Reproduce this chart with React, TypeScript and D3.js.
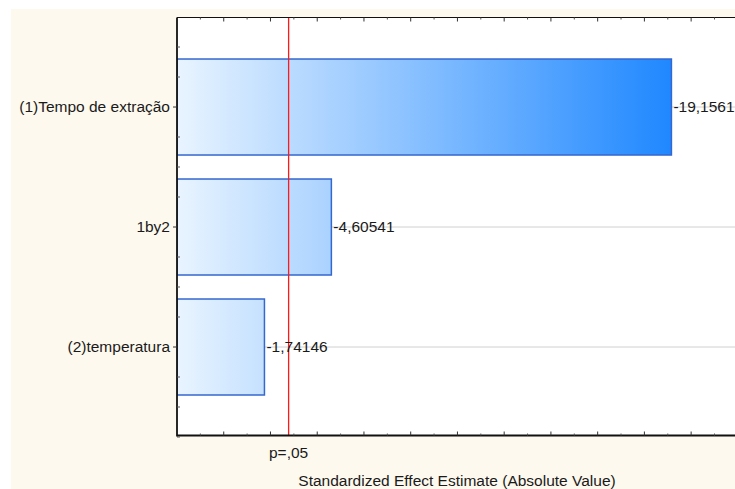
import React from "react";
import * as d3 from "d3";

// Pareto chart of standardized effects
const effectNames = ["(1)Tempo de extração", "1by2", "(2)temperatura"];
const effectValues = [19.1561, 4.60541, 1.74146];
const effectLabels = ["-19,1561", "-4,60541", "-1,74146"];
const criticalValue = 2.776;
const criticalLabel = "p=,05";
const xTitle = "Standardized Effect Estimate (Absolute Value)";

const W = 735;
const H = 489;
const left = 177;
const top = 17.5;
const bottom = 435.5;

export default function App() {
  const x = d3.scaleLinear().domain([-2, 22]).range([left, left + 24 * 23.37]);
  const y = d3.scaleLinear().domain([0.254, 3.7375]).range([top, bottom]);
  const barH = 0.8 * (y(2) - y(1));
  const xMajor = d3.range(0, 22, 2);
  const xMinor = d3.range(-1, 22, 2);
  const yMinor = d3.range(0.5, 3.76, 0.25).filter((v) => Math.abs(v - Math.round(v)) > 1e-6);
  const yMajor = [1, 2, 3];
  const font = "Arial, 'Liberation Sans', sans-serif";
  const fs = 15.5;
  const right = W + 5;

  return (
    <svg width={W} height={H} style={{ position: "absolute", left: 0, top: 0 }}>
      <defs>
        <linearGradient id="barFill" gradientUnits="userSpaceOnUse" x1={left} y1={0} x2={x(19.3)} y2={0}>
          <stop offset="0" stopColor="#e9f4ff" />
          <stop offset="1" stopColor="#1e87ff" />
        </linearGradient>
        <clipPath id="plotClip">
          <rect x={left} y={top} width={right - left} height={bottom - top} />
        </clipPath>
      </defs>
      <rect x={0} y={0} width={W} height={H} fill="#ffffff" />
      <rect x={11} y={9} width={W - 11} height={H - 9} fill="#fef9ee" />
      <rect x={left} y={top} width={right - left} height={bottom - top} fill="#ffffff" />

      <g clipPath="url(#plotClip)">
        {yMajor.map((v) => (
          <line key={v} x1={left} x2={right} y1={y(v)} y2={y(v)} stroke="#d0d0d0" strokeWidth={1} />
        ))}
        {effectValues.map((v, i) => (
          <rect
            key={i}
            x={left}
            y={y(i + 1) - barH / 2}
            width={x(v) - left}
            height={barH}
            fill="url(#barFill)"
            stroke="#3467cf"
            strokeWidth={1.5}
          />
        ))}
        <line x1={x(criticalValue)} x2={x(criticalValue)} y1={top} y2={bottom} stroke="#ff1a1a" strokeWidth={1.3} />
      </g>

      {effectValues.map((v, i) => (
        <text
          key={i}
          x={x(v) + 2}
          y={y(i + 1)}
          dy="0.35em"
          fontFamily={font}
          fontSize={fs}
          fill="#1a1a1a"
        >
          {effectLabels[i]}
        </text>
      ))}

      {/* frame */}
      <line x1={left} x2={right} y1={top} y2={top} stroke="#111" strokeWidth={1} />
      <line x1={left} x2={right} y1={bottom} y2={bottom} stroke="#111" strokeWidth={1.8} />
      <line x1={left} x2={left} y1={top} y2={bottom + 0.9} stroke="#111" strokeWidth={1.8} />

      {/* x ticks, inward on bottom and top */}
      {xMajor.map((v) => (
        <g key={"M" + v}>
          <line x1={x(v)} x2={x(v)} y1={bottom} y2={bottom - 4} stroke="#333" />
          <line x1={x(v)} x2={x(v)} y1={top} y2={top + 4} stroke="#333" />
        </g>
      ))}
      {xMinor.map((v) => (
        <g key={"m" + v}>
          <line x1={x(v)} x2={x(v)} y1={bottom} y2={bottom - 2} stroke="#555" />
          <line x1={x(v)} x2={x(v)} y1={top} y2={top + 2} stroke="#555" />
        </g>
      ))}

      {/* y ticks */}
      {yMinor.map((v) => (
        <line key={"ym" + v} x1={left} x2={left + 3} y1={y(v)} y2={y(v)} stroke="#555" />
      ))}
      {yMajor.map((v) => (
        <line key={"yM" + v} x1={left} x2={left - 4} y1={y(v)} y2={y(v)} stroke="#333" />
      ))}

      {effectNames.map((n, i) => (
        <text
          key={n}
          x={left - 7}
          y={y(i + 1)}
          dy="0.35em"
          textAnchor="end"
          fontFamily={font}
          fontSize={fs}
          fill="#1a1a1a"
        >
          {n}
        </text>
      ))}

      <text x={x(criticalValue)} y={458} textAnchor="middle" fontFamily={font} fontSize={fs} fill="#1a1a1a">
        {criticalLabel}
      </text>
      <text x={457} y={486} textAnchor="middle" fontFamily={font} fontSize={fs} fill="#1a1a1a">
        {xTitle}
      </text>
    </svg>
  );
}
